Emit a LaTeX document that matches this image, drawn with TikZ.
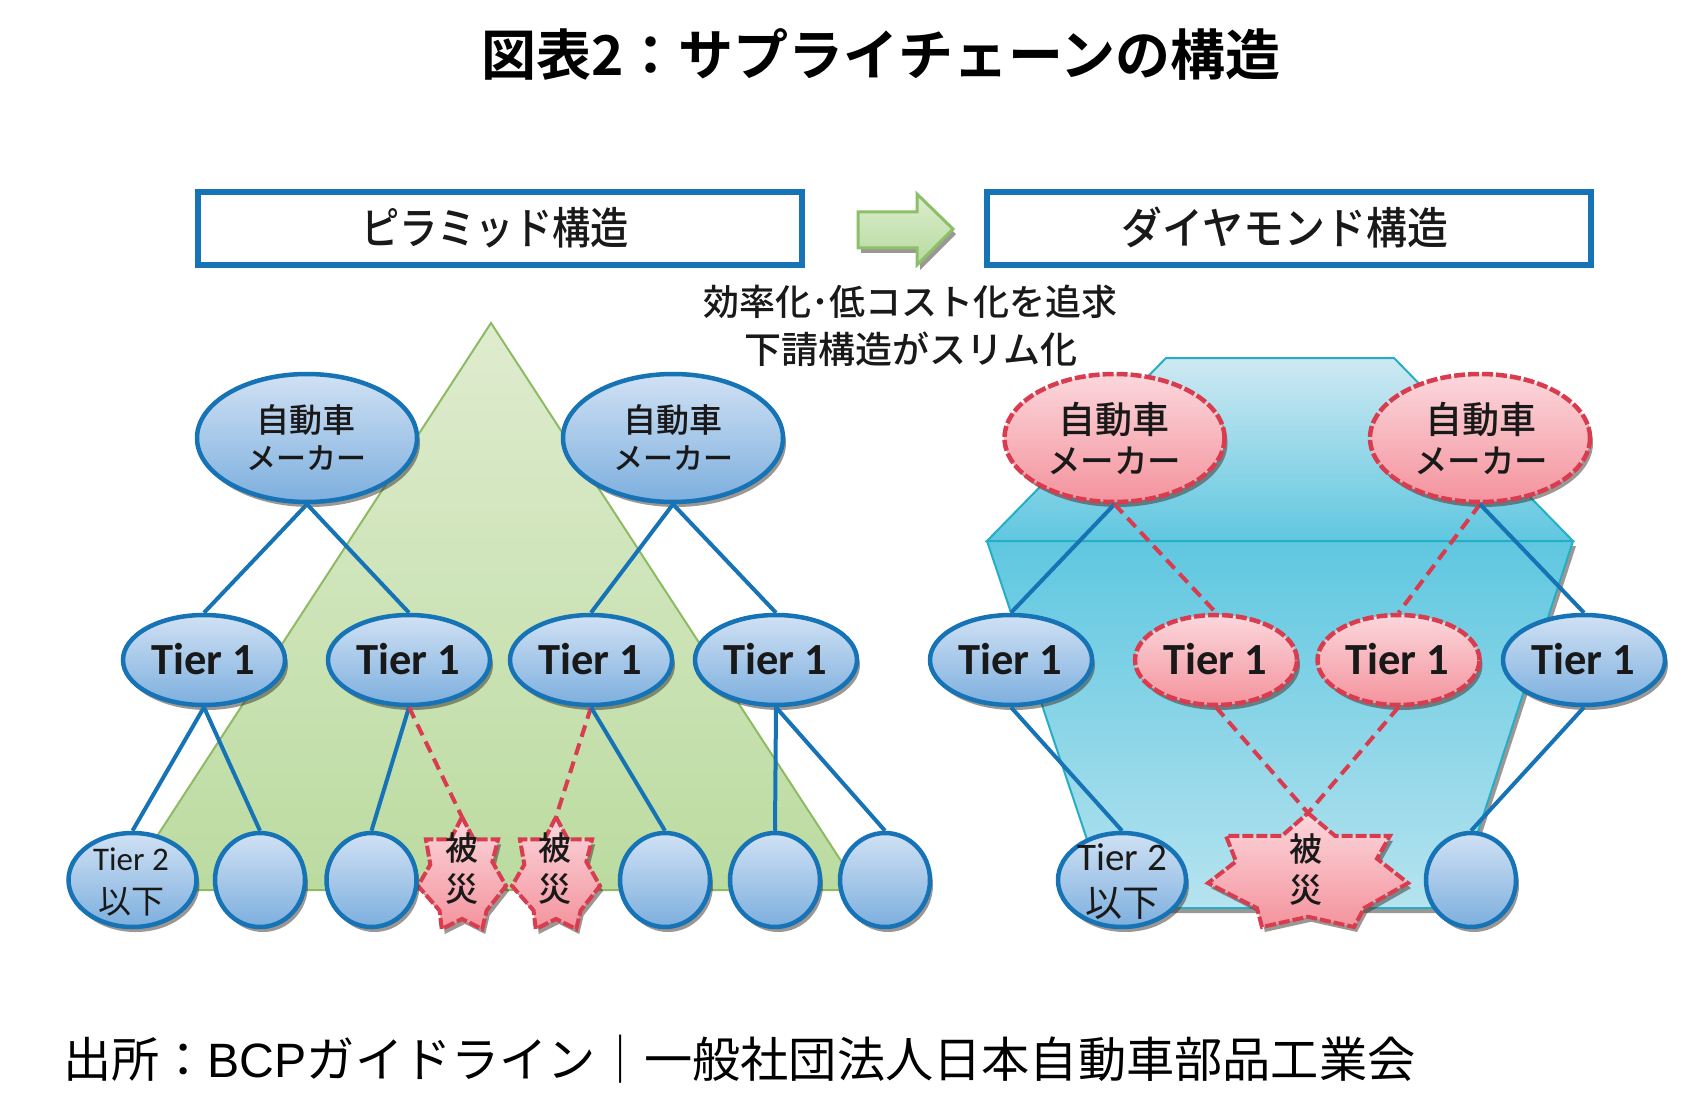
\documentclass[tikz,border=0pt]{standalone}
\usepackage{fontspec}
\setmainfont{Noto Sans CJK JP}[UprightFont=* Medium,BoldFont=* Bold]
\newfontfamily\tierfont{Carlito}
\newfontfamily\latinfont{Liberation Sans}
\newfontfamily\plainfont{Noto Sans CJK JP}
\usetikzlibrary{shapes.geometric,shadows,calc}
\definecolor{bluel}{HTML}{1673B5}
\definecolor{redl}{HTML}{D83C4E}
\definecolor{bluetop}{HTML}{D0E1F4}
\definecolor{bluebot}{HTML}{7DAFDE}
\definecolor{pinktop}{HTML}{FBD7DC}
\definecolor{pinkbot}{HTML}{F4939D}
\definecolor{greenline}{HTML}{8DBB63}
\definecolor{greentop}{HTML}{DFECCF}
\definecolor{greenbot}{HTML}{BBDBA0}
\definecolor{arrowtop}{HTML}{DCEDCD}
\definecolor{arrowbot}{HTML}{B7DA9F}
\definecolor{arrowline}{HTML}{8CC068}
\definecolor{cyanline}{HTML}{25AEC6}
\definecolor{cyantop}{HTML}{CFE9F2}
\definecolor{cyanmid}{HTML}{5FC7E0}
\definecolor{cyanlow}{HTML}{86D3E6}
\definecolor{cyanbot}{HTML}{B6E3EF}
\definecolor{shadowc}{HTML}{3A3028}
\tikzset{
  x=1pt,y=-1pt,
  softshadow/.style={drop shadow={shadow xshift=3pt,shadow yshift=-5pt,fill=shadowc,opacity=.5}},
  frame/.style={rectangle,draw=bluel,fill=white,line width=6pt,minimum width=604pt,minimum height=73pt,inner sep=0pt},
  bluenode/.style={ellipse,draw=bluel,line width=4.5pt,top color=bluetop,bottom color=bluebot,inner sep=0pt,softshadow},
  rednode/.style={ellipse,draw=redl,dash pattern=on 11pt off 3pt,line width=4.5pt,top color=pinktop,bottom color=pinkbot,inner sep=0pt,softshadow},
  makerbox/.style={minimum width=220pt,minimum height=128pt},
  tierbox/.style={minimum width=162pt,minimum height=90pt},
  leafbox/.style={minimum width=90pt,minimum height=94pt},
  tiertwobox/.style={minimum width=128pt,minimum height=94pt},
  solidlink/.style={draw=bluel,line width=4pt},
  dashlink/.style={draw=redl,line width=4pt,dash pattern=on 12pt off 7pt},
  lbl/.style={inner sep=0pt,align=center,text=black!90},
  tierlbl/.style={lbl,font=\tierfont\bfseries\fontsize{44.5}{44}\selectfont},
}
% \burst{name}{cx}{cy}{rx}{ry}: seven-pointed burst with a coordinate name at its tip
\newcommand\burst[5]{%
  \coordinate (#1) at (#2,#3-#5);
  \draw[draw=redl,line width=4pt,dash pattern=on 11pt off 3pt,top color=pinktop,bottom color=pinkbot,softshadow]
   (#2,#3-#5) -- (#2+.27*#4,#3-.6*#5) -- (#2+.82*#4,#3-.6*#5) -- (#2+.69*#4,#3-.2*#5) -- (#2+#4,#3+.23*#5)
   -- (#2+.56*#4,#3+.67*#5) -- (#2+.46*#4,#3+#5) -- (#2,#3+.82*#5) -- (#2-.46*#4,#3+#5) -- (#2-.51*#4,#3+.67*#5)
   -- (#2-#4,#3+.23*#5) -- (#2-.72*#4,#3-.15*#5) -- (#2-.82*#4,#3-.6*#5) -- (#2-.26*#4,#3-.6*#5) -- cycle;}
\begin{document}
\begin{tikzpicture}
\useasboundingbox (0,0) rectangle (1703,1115);
% title
\node[lbl,text=black,font=\bfseries\fontsize{55}{60}\selectfont] (title) at (881,54) {図表2^^^^ff1aサプライチェーンの構造};
% headers
\node[frame] (hl) at (500,228.5) {};
\node[frame] (hr) at (1288.5,228.5) {};
\node[lbl,font=\fontsize{44}{48}\selectfont] (hlt) at (495,228) {\scalebox{.87}[1]{ピラミッド構造}};
\node[lbl,font=\fontsize{44}{48}\selectfont] (hrt) at (1285,228) {\scalebox{.93}[1]{ダイヤモンド構造}};
\draw[draw=arrowline,line width=3pt,top color=arrowtop,bottom color=arrowbot,softshadow]
 (858,212) -- (917,212) -- (917,194) -- (953,229) -- (917,265) -- (917,248) -- (858,248) -- cycle;
\node[lbl,font=\fontsize{36}{36}\selectfont] (notea) at (910,302) {効率化^^^^ff65低コスト化を追求};
\node[lbl,font=\fontsize{37}{37}\selectfont] (noteb) at (911,349) {下請構造がスリム化};
% pyramid
\draw[draw=greenline,line width=2pt,top color=greentop,bottom color=greenbot]
 (491,323) -- (860,890) -- (122,890) -- cycle;
% diamond
\draw[draw=cyanline,line width=2pt,top color=cyantop,bottom color=cyanmid]
 (1166,358) -- (1394,358) -- (1573,541) -- (987,541) -- cycle;
\draw[draw=cyanline,line width=2pt,top color=cyanmid,middle color=cyanlow,bottom color=cyanbot,softshadow]
 (987,541) -- (1573,541) -- (1453,908) -- (1110,908) -- cycle;
% nodes
\burst{b1}{462}{873}{44}{56}
\burst{b2}{556}{873}{44}{56}
\burst{b3}{1308}{870}{100}{57}
\node[bluenode,makerbox] (m1) at (307,438) {};
\node[bluenode,makerbox] (m2) at (673,438) {};
\node[bluenode,tierbox] (t1) at (204,660) {};
\node[bluenode,tierbox] (t2) at (409,660) {};
\node[bluenode,tierbox] (t3) at (591,660) {};
\node[bluenode,tierbox] (t4) at (776,660) {};
\node[bluenode,tiertwobox] (l1) at (132.5,880) {};
\node[bluenode,leafbox] (l2) at (260,880) {};
\node[bluenode,leafbox] (l3) at (371.5,880) {};
\node[bluenode,leafbox] (l4) at (665,880) {};
\node[bluenode,leafbox] (l5) at (775,880) {};
\node[bluenode,leafbox] (l6) at (885,880) {};
\node[rednode,makerbox] (m3) at (1114.5,438) {};
\node[rednode,makerbox] (m4) at (1480,438) {};
\node[bluenode,tierbox] (t5) at (1011,660) {};
\node[rednode,tierbox] (t6) at (1216,660) {};
\node[rednode,tierbox] (t7) at (1398.5,660) {};
\node[bluenode,tierbox] (t8) at (1584,660) {};
\node[bluenode,tiertwobox] (r1) at (1122,880) {};
\node[bluenode,leafbox] (r2) at (1471,880) {};
% connectors
\draw[solidlink] (m1.south) -- (t1.north);
\draw[solidlink] (m1.south) -- (t2.north);
\draw[solidlink] (m2.south) -- (t3.north);
\draw[solidlink] (m2.south) -- (t4.north);
\draw[solidlink] (t1.south) -- (l1.north);
\draw[solidlink] (t1.south) -- (l2.north);
\draw[solidlink] (t2.south) -- (l3.north);
\draw[dashlink] (t2.south) -- (b1);
\draw[dashlink] (t3.south) -- (b2);
\draw[solidlink] (t3.south) -- (l4.north);
\draw[solidlink] (t4.south) -- (l5.north);
\draw[solidlink] (t4.south) -- (l6.north);
\draw[solidlink] (m3.south) -- (t5.north);
\draw[dashlink] (m3.south) -- (t6.north);
\draw[dashlink] (m4.south) -- (t7.north);
\draw[solidlink] (m4.south) -- (t8.north);
\draw[solidlink] (t5.south) -- (r1.north);
\draw[dashlink] (t6.south) -- (b3);
\draw[dashlink] (t7.south) -- (b3);
\draw[solidlink] (t8.south) -- (r2.north);
% labels
\node[lbl,font=\fontsize{33}{33}\selectfont] (m1a) at (306,420) {自動車};
\node[lbl,font=\fontsize{30}{30}\selectfont] (m1b) at (306,458) {メーカー};
\node[lbl,font=\fontsize{33}{33}\selectfont] (m2a) at (673,420) {自動車};
\node[lbl,font=\fontsize{30}{30}\selectfont] (m2b) at (673,458) {メーカー};
\node[lbl,font=\fontsize{37}{37}\selectfont] (m3a) at (1114,420) {自動車};
\node[lbl,font=\fontsize{33.5}{34}\selectfont] (m3b) at (1114,461) {メーカー};
\node[lbl,font=\fontsize{37}{37}\selectfont] (m4a) at (1481,420) {自動車};
\node[lbl,font=\fontsize{33.5}{34}\selectfont] (m4b) at (1481,461) {メーカー};
\node[tierlbl] (t1t) at (203,659) {Tier 1};
\node[tierlbl] (t2t) at (408,659) {Tier 1};
\node[tierlbl] (t3t) at (590,659) {Tier 1};
\node[tierlbl] (t4t) at (775,659) {Tier 1};
\node[tierlbl] (t5t) at (1010,659) {Tier 1};
\node[tierlbl] (t6t) at (1215,659) {Tier 1};
\node[tierlbl] (t7t) at (1397.5,659) {Tier 1};
\node[tierlbl] (t8t) at (1583,659) {Tier 1};
\node[lbl,font=\tierfont\fontsize{33}{33}\selectfont] (l1a) at (131,859) {Tier 2};
\node[lbl,font=\plainfont\fontsize{33}{33}\selectfont] (l1b) at (131,902) {以下};
\node[lbl,font=\tierfont\fontsize{39}{39}\selectfont] (r1a) at (1122,857) {Tier 2};
\node[lbl,font=\plainfont\fontsize{37}{37}\selectfont] (r1b) at (1122,903) {以下};
\node[lbl,font=\fontsize{33}{41}\selectfont] (b1t) at (462,869) {被\\災};
\node[lbl,font=\fontsize{33}{41}\selectfont] (b2t) at (555,869) {被\\災};
\node[lbl,font=\fontsize{33}{41}\selectfont] (b3t) at (1306,870) {被\\災};
% source
\node[lbl,anchor=west,text=black,font=\plainfont\fontsize{48.2}{50}\selectfont] (src) at (63,1059) {出所^^^^ff1a{\latinfont BCP}ガイドライン^^^^ff5c一般社団法人日本自動車部品工業会};
\end{tikzpicture}
\end{document}
